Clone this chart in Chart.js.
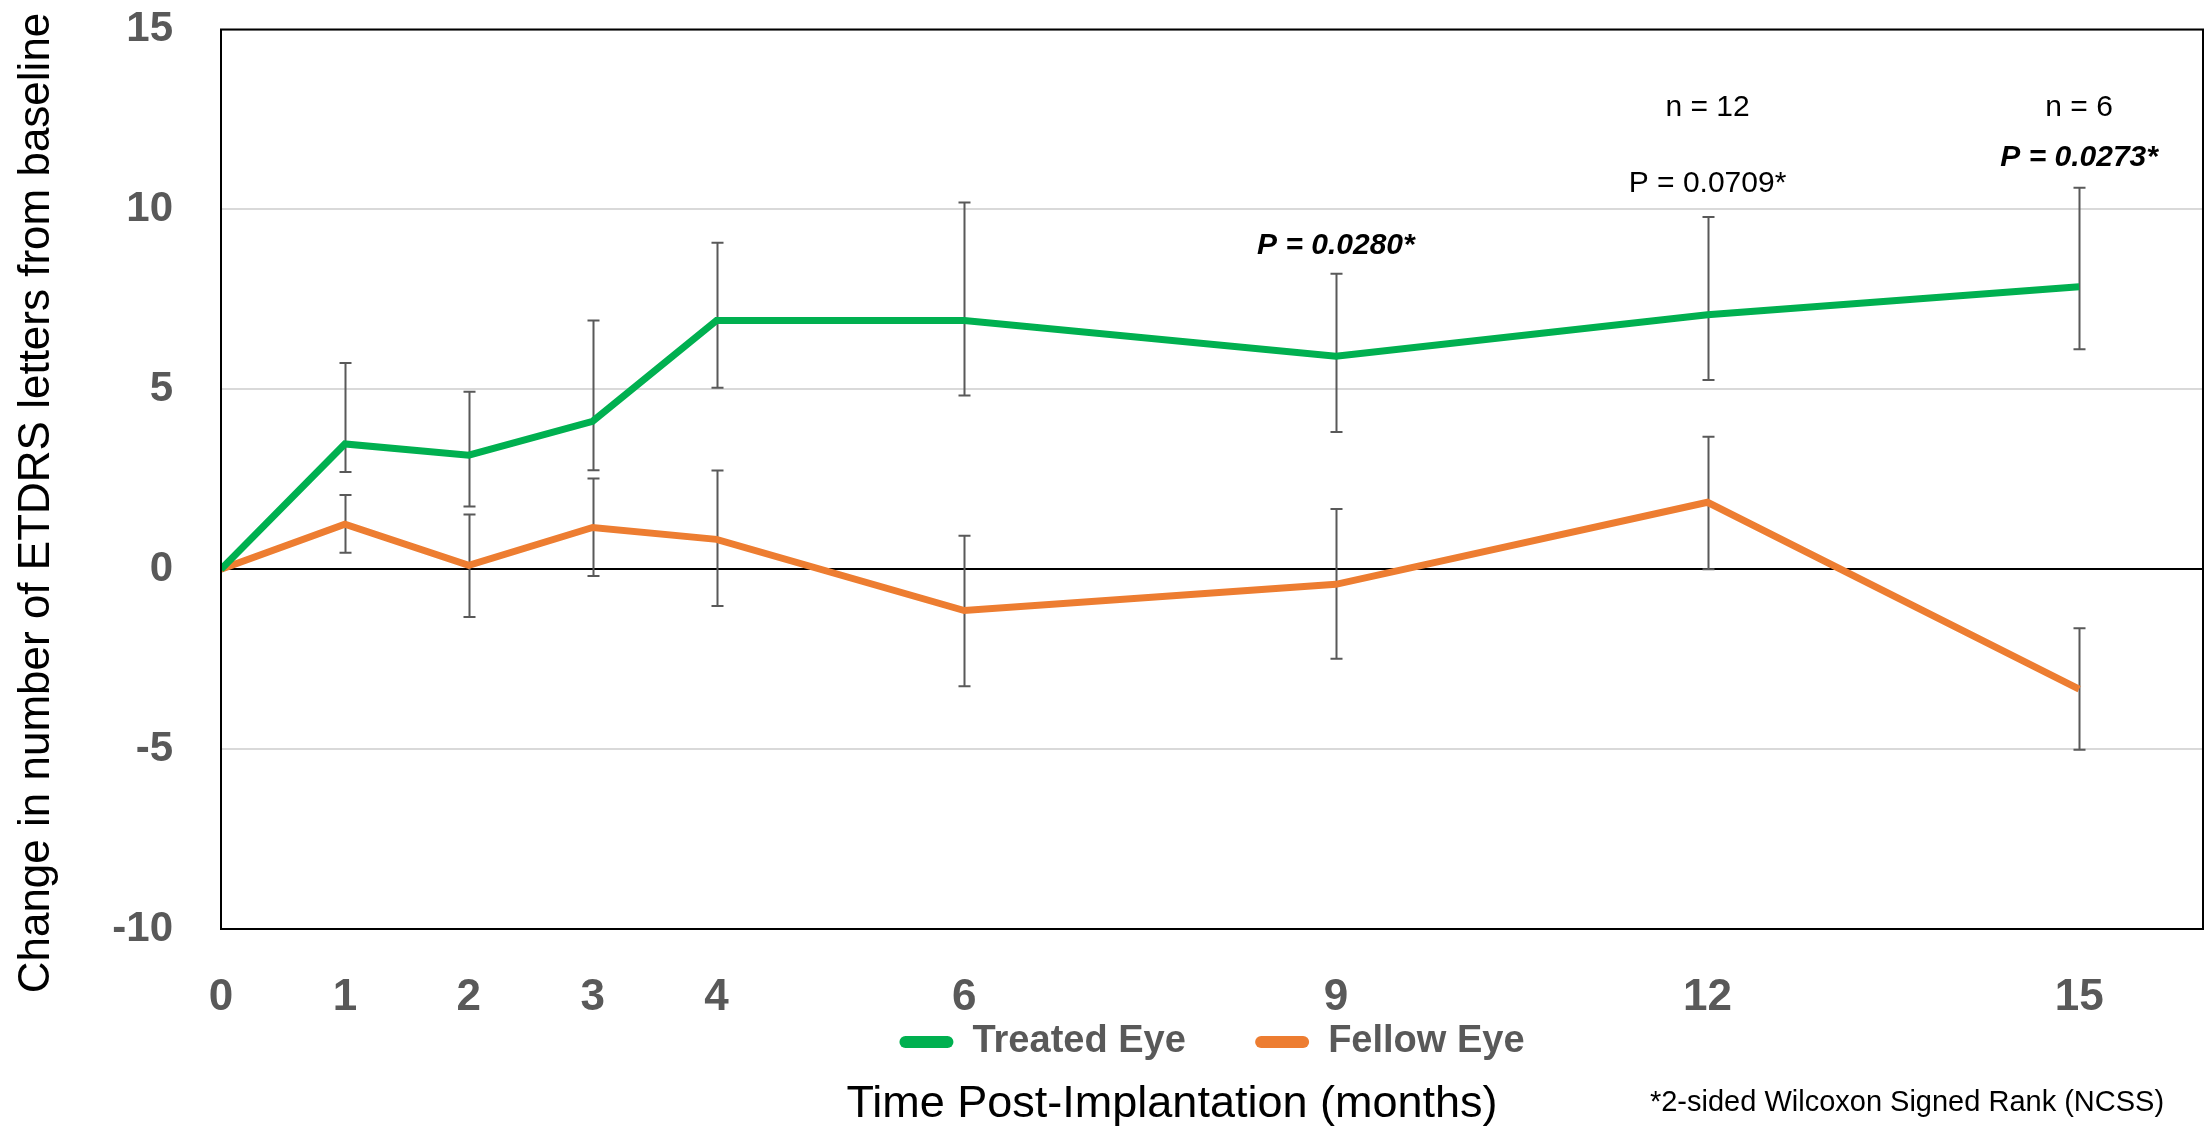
<!DOCTYPE html>
<html>
<head>
<meta charset="utf-8">
<script src="https://cdn.jsdelivr.net/npm/chart.js@4.4.1/dist/chart.umd.min.js"></script>
<style>
  html, body { margin: 0; padding: 0; background: #fff; }
  #wrap { width: 2211px; height: 1129px; }
</style>
</head>
<body>
<div id="wrap"><canvas id="etdrsChart" width="2211" height="1129"></canvas></div>
<script>
// months after implantation
const months = [0, 1, 2, 3, 4, 6, 9, 12, 15];
const tickMonths = [0, 1, 2, 3, 4, 6, 9, 12, 15];

// treated eye: mean change + error bar ends
const treated = [0, 3.48, 3.17, 4.11, 6.91, 6.91, 5.92, 7.07, 7.85];
const treatedHigh = [null, 5.73, 4.93, 6.91, 9.07, 10.19, 8.21, 9.79, 10.6];
const treatedLow = [null, 2.70, 1.74, 2.75, 5.04, 4.83, 3.81, 5.26, 6.11];

// fellow eye
const fellow = [0, 1.25, 0.11, 1.16, 0.83, -1.15, -0.42, 1.86, -3.33];
const fellowHigh = [null, 2.06, 1.52, 2.52, 2.74, 0.93, 1.67, 3.68, -1.64];
const fellowLow = [null, 0.46, -1.33, -0.19, -1.02, -3.25, -2.49, 0, -5.02];

// text notes over the plot (month, value, text, bold-italic?)
const notes = [
    [12, 12.83, 'n = 12', false],
    [12, 10.72, 'P = 0.0709*', false],
    [15, 12.83, 'n = 6', false],
    [15, 11.44, 'P = 0.0273*', true],
    [9, 9.0, 'P = 0.0280*', true]
];

const GREEN = '#00B050';
const ORANGE = '#ED7D31';
const GREY = '#595959';
const FONT = '"Liberation Sans", Arial, sans-serif';

function pts(vals) {
    return months.map((m, i) => ({ x: m, y: vals[i] }));
}

const extras = {
    id: 'extras',
    beforeDatasetsDraw(chart) {
        const c = chart.ctx;
        const xs = chart.scales.x, ys = chart.scales.y;
        c.save();
        c.strokeStyle = GREY;
        c.lineWidth = 2;
        [[treatedHigh, treatedLow], [fellowHigh, fellowLow]].forEach(([hi, lo]) => {
            months.forEach((m, i) => {
                if (hi[i] === null) return;
                const px = Math.round(xs.getPixelForValue(m)) + 0.5;
                const y1 = ys.getPixelForValue(hi[i]);
                const y2 = ys.getPixelForValue(lo[i]);
                c.beginPath();
                c.moveTo(px, y1); c.lineTo(px, y2);
                c.moveTo(px - 6, y1); c.lineTo(px + 6, y1);
                c.moveTo(px - 6, y2); c.lineTo(px + 6, y2);
                c.stroke();
            });
        });
        c.restore();
    },
    afterDraw(chart) {
        const c = chart.ctx;
        const a = chart.chartArea;
        const xs = chart.scales.x, ys = chart.scales.y;
        c.save();
        // plot frame
        c.strokeStyle = '#000';
        c.lineWidth = 2;
        c.strokeRect(a.left, a.top, a.right - a.left, a.bottom - a.top);

        // notes
        c.fillStyle = '#000';
        c.textAlign = 'center';
        c.textBaseline = 'middle';
        notes.forEach(([m, v, t, b]) => {
            c.font = (b ? 'italic bold ' : '') + '30px ' + FONT;
            c.fillText(t, xs.getPixelForValue(m), ys.getPixelForValue(v));
        });

        // axis titles + footnote
        c.font = '45px ' + FONT;
        c.fillText('Time Post-Implantation (months)', 1172, 1105);
        c.font = '29px ' + FONT;
        c.fillText('*2-sided Wilcoxon Signed Rank (NCSS)', 1907, 1103);

        c.translate(37, 503);
        c.rotate(-Math.PI / 2);
        c.font = '44px ' + FONT;
        c.fillText('Change in number of ETDRS letters from baseline', 0, 0);
        c.restore();
    }
};

document.addEventListener('DOMContentLoaded', function () {
    const ctx = document.getElementById('etdrsChart');
    new Chart(ctx, {
        type: 'line',
        data: {
            datasets: [{
                label: 'Treated Eye',
                data: pts(treated),
                borderColor: GREEN,
                backgroundColor: GREEN,
                borderWidth: 7,
                pointRadius: 0,
                tension: 0
            }, {
                label: 'Fellow Eye',
                data: pts(fellow),
                borderColor: ORANGE,
                backgroundColor: ORANGE,
                borderWidth: 7,
                pointRadius: 0,
                tension: 0
            }]
        },
        options: {
            responsive: false,
            animation: false,
            layout: { padding: { top: 29.5, right: 8, left: 0, bottom: 58 } },
            plugins: {
                tooltip: { enabled: false },
                legend: {
                    position: 'bottom',
                    fullSize: false,
                    labels: {
                        color: GREY,
                        font: { family: FONT, size: 38, weight: 'bold' },
                        boxWidth: 54,
                        boxHeight: 12,
                        useBorderRadius: true,
                        borderRadius: 6,
                        padding: 6,
                        generateLabels: (chart) => {
                            const items = Chart.defaults.plugins.legend.labels.generateLabels(chart);
                            items.forEach((it, i) => {
                                it.lineWidth = 0;
                                if (i === 0) it.text = it.text + '      ';
                            });
                            return items;
                        }
                    }
                }
            },
            scales: {
                x: {
                    type: 'linear',
                    min: 0,
                    max: 16,
                    afterBuildTicks: (s) => { s.ticks = tickMonths.map(v => ({ value: v })); },
                    afterFit: (s) => { s.height = 88; },
                    grid: { display: false, drawTicks: false },
                    border: { display: false },
                    ticks: {
                        color: GREY,
                        padding: 42,
                        autoSkip: false,
                        maxRotation: 0,
                        font: { family: FONT, size: 44, weight: 'bold' }
                    }
                },
                y: {
                    min: -10,
                    max: 15,
                    afterFit: (s) => { s.width = 221; },
                    grid: {
                        drawTicks: true,
                        tickLength: 48,
                        tickColor: 'rgba(0,0,0,0)',
                        lineWidth: 2,
                        color: (c) => (c.tick && c.tick.value === 0) ? '#000' : '#d9d9d9'
                    },
                    border: { display: false },
                    ticks: {
                        stepSize: 5,
                        color: GREY,
                        padding: 0,
                        font: { family: FONT, size: 42, weight: 'bold' }
                    }
                }
            }
        },
        plugins: [extras]
    });
});
</script>
</body>
</html>
